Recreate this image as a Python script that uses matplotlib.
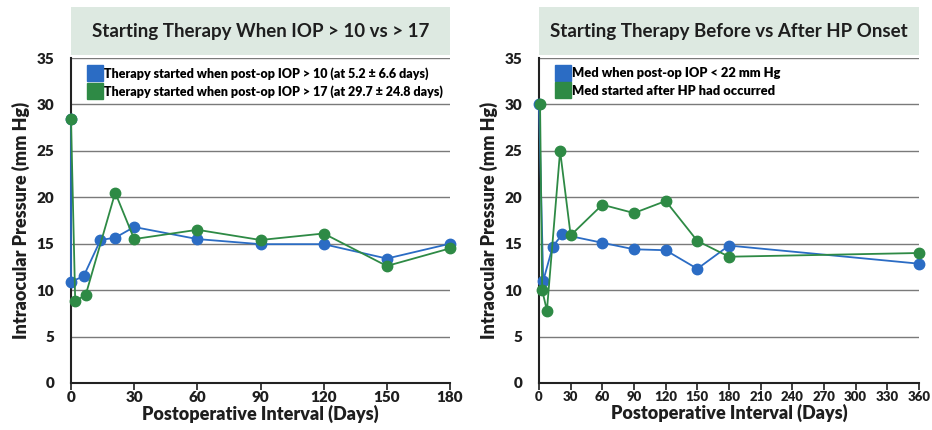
import matplotlib
matplotlib.use("Agg")
import matplotlib.pyplot as plt
from matplotlib.patches import Rectangle
from matplotlib.lines import Line2D

# ---- data ----
left_title = "Starting Therapy When IOP > 10 vs > 17"
left_labels = ["Therapy started when post-op IOP > 10 (at 5.2 \u00b1 6.6 days)",
               "Therapy started when post-op IOP > 17 (at 29.7 \u00b1 24.8 days)"]
left_blue_x = [0, 0, 6, 14, 21, 30, 60, 90, 120, 150, 180]
left_blue_y = [28.4, 10.9, 11.5, 15.4, 15.65, 16.8, 15.5, 14.95, 14.95, 13.4, 15.0]
left_green_x = [0, 2, 7, 21, 30, 60, 90, 120, 150, 180]
left_green_y = [28.4, 8.8, 9.5, 20.5, 15.5, 16.5, 15.4, 16.1, 12.6, 14.5]
left_xticks = [0, 30, 60, 90, 120, 150, 180]

right_title = "Starting Therapy Before vs After HP Onset"
right_labels = ["Med when post-op IOP < 22 mm Hg",
                "Med started after HP had occurred"]
right_blue_x = [0, 4, 13, 22, 60, 90, 120, 150, 180, 360]
right_blue_y = [30.0, 11.0, 14.7, 16.0, 15.1, 14.4, 14.3, 12.3, 14.8, 12.85]
right_green_x = [1, 3, 7.5, 20, 30, 60, 90, 120, 150, 180, 360]
right_green_y = [30.0, 10.0, 7.8, 25.0, 15.9, 19.2, 18.3, 19.6, 15.3, 13.6, 14.0]
right_xticks = list(range(0, 361, 30))

yticks = [0, 5, 10, 15, 20, 25, 30, 35]
ylabel = "Intraocular Pressure (mm Hg)"
xlabel = "Postoperative Interval (Days)"

BLUE = "#2b6cc4"
GREEN = "#2e8a45"
BOX = "#dde9e1"
INK = "#1e1e1e"
W, H = 932, 430

fig = plt.figure(figsize=(W / 100, H / 100), dpi=100)
fig.patch.set_facecolor("white")

def fx(px):
    return px / W

def fy(py):
    return 1 - py / H

FONT = ["Lato", "DejaVu Sans"]
WEIGHT = "heavy"

def panel(x0, x1, xmax, xticks, xtsize, bx, by, gx, gy, title, labels, legsize):
    ax = fig.add_axes([fx(x0), fy(383), fx(x1 - x0), (383 - 58) / H])
    ax.set_xlim(0, xmax)
    ax.set_ylim(0, 35)
    for v in yticks[1:]:
        ax.axhline(v, color="#7a7a7a", lw=1.0, zorder=1)
    ax.plot(bx, by, color=BLUE, lw=1.3, marker="o", ms=7.5, mec=BLUE, mfc=BLUE,
            zorder=3, clip_on=False)
    ax.plot(gx, gy, color=GREEN, lw=1.3, marker="o", ms=7.5, mec=GREEN, mfc=GREEN,
            zorder=4, clip_on=False)
    for s in ["top", "right"]:
        ax.spines[s].set_visible(False)
    for s in ["left", "bottom"]:
        ax.spines[s].set_linewidth(1.5)
        ax.spines[s].set_color("#222222")
    ax.set_xticks(xticks)
    ax.set_yticks(yticks)
    ax.tick_params(axis="x", length=5, width=1.2, pad=1, labelsize=xtsize, colors=INK)
    ax.tick_params(axis="y", length=0, pad=12, labelsize=11, colors=INK)
    for t in ax.get_xticklabels() + ax.get_yticklabels():
        t.set_fontweight(WEIGHT)
        t.set_family(FONT)
    ax.set_xlabel(xlabel, fontsize=13, fontweight=WEIGHT, family=FONT, labelpad=0,
                  color=INK)
    ax.set_ylabel(ylabel, fontsize=13, fontweight=WEIGHT, family=FONT, labelpad=5,
                  color=INK)
    handles = [Line2D([], [], ls="none", marker="s", ms=11, color=BLUE),
               Line2D([], [], ls="none", marker="s", ms=11, color=GREEN)]
    ax.legend(handles, labels, loc="upper left", bbox_to_anchor=(0.025, 1.0),
              frameon=False, handlelength=0.9, handletextpad=0.25,
              labelspacing=0.45, borderaxespad=0.3,
              prop={"family": FONT, "weight": WEIGHT, "size": legsize})
    # title box
    fig.patches.append(Rectangle((fx(x0), fy(55)), fx(x1 - x0), (55 - 7) / H,
                                 transform=fig.transFigure, facecolor=BOX,
                                 edgecolor="none", zorder=0))
    fig.text(fx((x0 + x1) / 2), fy(31), title, ha="center", va="center",
             fontsize=13.5, fontweight="bold", family=FONT, color=INK)
    return ax

panel(71, 450, 180, left_xticks, 11, left_blue_x, left_blue_y, left_green_x, left_green_y,
      left_title, left_labels, 9.0)
panel(539, 919, 360, right_xticks, 9.5, right_blue_x, right_blue_y, right_green_x,
      right_green_y, right_title, right_labels, 9.3)

fig.savefig("out.png", dpi=100, facecolor="white")
